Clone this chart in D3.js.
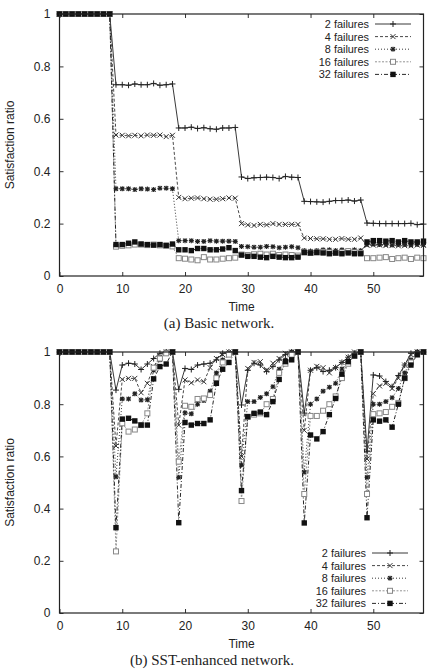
<!DOCTYPE html>
<html>
<head>
<meta charset="utf-8">
<script src="https://cdn.jsdelivr.net/npm/d3@7"></script>
<style>
  body { margin: 0; background: #fff; }
  svg text { font-family: "Liberation Sans", Arial, sans-serif; fill: #222; }
  svg text.caption { font-family: "Liberation Serif", "DejaVu Serif", serif; }
</style>
</head>
<body>
<div id="chart"></div>
<script>
// ----------- Data -----------------------------------

const time = d3.range(0, 59);
const seriesNames = ["2 failures", "4 failures", "8 failures", "16 failures", "32 failures"];
const xTicks = [0, 10, 20, 30, 40, 50];
const yTicks = [0, 0.2, 0.4, 0.6, 0.8, 1];
const yTickLabels = ["0", "0.2", "0.4", "0.6", "0.8", "1"];

const ones = [1, 1, 1, 1, 1, 1, 1, 1, 1];

// (a) Basic network
const basic2 = ones.concat([
  0.73, 0.73, 0.728, 0.733, 0.73, 0.73, 0.735, 0.728, 0.73, 0.733,
  0.565, 0.565, 0.568, 0.563, 0.566, 0.562, 0.56, 0.565, 0.565, 0.567,
  0.378, 0.372, 0.375, 0.376, 0.377, 0.376, 0.372, 0.38, 0.377, 0.376,
  0.285, 0.284, 0.283, 0.282, 0.285, 0.288, 0.288, 0.29, 0.286, 0.29,
  0.202, 0.201, 0.2, 0.2, 0.2, 0.2, 0.2, 0.201, 0.196, 0.198]);
const basic4 = ones.concat([
  0.538, 0.537, 0.535, 0.537, 0.535, 0.538, 0.537, 0.538, 0.532, 0.537,
  0.3, 0.295, 0.297, 0.298, 0.295, 0.293, 0.293, 0.295, 0.298, 0.297,
  0.2, 0.195, 0.193, 0.197, 0.195, 0.2, 0.197, 0.197, 0.197, 0.197,
  0.145, 0.143, 0.142, 0.142, 0.14, 0.14, 0.143, 0.14, 0.14, 0.145,
  0.117, 0.118, 0.118, 0.116, 0.117, 0.115, 0.116, 0.115, 0.118, 0.117]);
const basic8 = ones.concat([
  0.333, 0.333, 0.333, 0.33, 0.333, 0.332, 0.33, 0.335, 0.335, 0.333,
  0.135, 0.135, 0.135, 0.132, 0.132, 0.135, 0.133, 0.133, 0.133, 0.132,
  0.113, 0.112, 0.11, 0.11, 0.113, 0.112, 0.108, 0.11, 0.112, 0.108,
  0.097, 0.095, 0.097, 0.1, 0.1, 0.097, 0.1, 0.097, 0.1, 0.097,
  0.12, 0.122, 0.12, 0.12, 0.118, 0.12, 0.12, 0.118, 0.12, 0.12]);
const basic16 = ones.concat([
  0.112, 0.115, 0.117, 0.12, 0.12, 0.118, 0.12, 0.117, 0.115, 0.113,
  0.068, 0.066, 0.063, 0.06, 0.072, 0.063, 0.063, 0.066, 0.068, 0.07,
  0.082, 0.08, 0.083, 0.085, 0.082, 0.085, 0.08, 0.082, 0.08, 0.078,
  0.09, 0.088, 0.09, 0.092, 0.09, 0.088, 0.09, 0.095, 0.09, 0.088,
  0.068, 0.068, 0.07, 0.072, 0.065, 0.068, 0.07, 0.065, 0.07, 0.068]);
const basic32 = ones.concat([
  0.12, 0.12, 0.125, 0.13, 0.122, 0.12, 0.118, 0.12, 0.117, 0.122,
  0.1, 0.1, 0.097, 0.105, 0.105, 0.1, 0.1, 0.103, 0.108, 0.097,
  0.08, 0.075, 0.075, 0.072, 0.07, 0.075, 0.072, 0.07, 0.07, 0.072,
  0.09, 0.088, 0.09, 0.088, 0.085, 0.088, 0.085, 0.088, 0.085, 0.085,
  0.13, 0.135, 0.135, 0.133, 0.135, 0.13, 0.135, 0.13, 0.13, 0.133]);

// (b) SST-enhanced network
const sst2 = ones.concat([
  0.854, 0.95, 0.957, 0.954, 0.933, 0.954, 0.975, 0.995, 1, 1,
  0.857, 0.937, 0.933, 0.95, 0.954, 0.957, 0.97, 0.995, 1, 1,
  0.797, 0.93, 0.957, 0.95, 0.925, 0.944, 0.97, 0.99, 1, 1,
  0.766, 0.93, 0.94, 0.925, 0.93, 0.94, 0.96, 0.98, 0.995, 1,
  0.62, 0.912, 0.908, 0.887, 0.867, 0.91, 0.95, 0.995, 1, 1]);
const sst4 = ones.concat([
  0.64, 0.895, 0.899, 0.899, 0.844, 0.88, 0.944, 0.982, 1, 1,
  0.72, 0.893, 0.882, 0.893, 0.886, 0.94, 0.975, 0.99, 1, 1,
  0.6, 0.937, 0.96, 0.963, 0.93, 0.957, 0.975, 0.995, 1, 1,
  0.7, 0.93, 0.945, 0.94, 0.92, 0.94, 0.96, 0.98, 1, 1,
  0.59, 0.84, 0.87, 0.88, 0.86, 0.9, 0.95, 0.99, 1, 1]);
const sst8 = ones.concat([
  0.522, 0.82, 0.82, 0.84, 0.816, 0.817, 0.93, 0.97, 1, 1,
  0.52, 0.767, 0.763, 0.8, 0.814, 0.85, 0.92, 0.97, 0.99, 1,
  0.567, 0.81, 0.81, 0.826, 0.84, 0.867, 0.934, 0.97, 1, 1,
  0.54, 0.8, 0.82, 0.85, 0.865, 0.88, 0.935, 0.96, 0.985, 1,
  0.52, 0.8, 0.8, 0.81, 0.825, 0.86, 0.92, 0.97, 1, 1]);
const sst16 = ones.concat([
  0.236, 0.727, 0.695, 0.703, 0.72, 0.765, 0.94, 0.975, 0.995, 1,
  0.58, 0.794, 0.79, 0.82, 0.822, 0.835, 0.9, 0.96, 0.99, 1,
  0.429, 0.752, 0.76, 0.765, 0.8, 0.82, 0.92, 0.955, 0.99, 1,
  0.456, 0.755, 0.755, 0.775, 0.8, 0.83, 0.9, 0.955, 0.985, 1,
  0.456, 0.762, 0.765, 0.77, 0.79, 0.805, 0.9, 0.96, 0.99, 1]);
const sst32 = ones.concat([
  0.327, 0.743, 0.746, 0.736, 0.72, 0.72, 0.897, 0.944, 0.954, 1,
  0.346, 0.73, 0.72, 0.726, 0.726, 0.74, 0.88, 0.934, 0.96, 1,
  0.469, 0.752, 0.765, 0.77, 0.76, 0.81, 0.895, 0.963, 0.97, 1,
  0.345, 0.682, 0.667, 0.695, 0.76, 0.822, 0.915, 0.963, 0.985, 1,
  0.365, 0.74, 0.735, 0.74, 0.712, 0.8, 0.9, 0.95, 0.99, 1]);

// ----------- Styles (gnuplot-like line/point types) ------------

const styles = [
  { dash: null,      color: "#222", marker: "plus" },
  { dash: "3,2",     color: "#333", marker: "cross" },
  { dash: "1,2",     color: "#222", marker: "star" },
  { dash: "2,1.5",   color: "#888", marker: "openSquare" },
  { dash: "4,2,1,2", color: "#111", marker: "filledSquare" }
];

function drawMarker(g, kind, x, y, color) {
  if (kind === "plus") {
    g.append("path").attr("d", `M${x - 3},${y}H${x + 3}M${x},${y - 3}V${y + 3}`)
      .attr("stroke", color).attr("stroke-width", 1);
  } else if (kind === "cross") {
    g.append("path").attr("d", `M${x - 2.5},${y - 2.5}L${x + 2.5},${y + 2.5}M${x - 2.5},${y + 2.5}L${x + 2.5},${y - 2.5}`)
      .attr("stroke", color).attr("stroke-width", 1);
  } else if (kind === "star") {
    g.append("path").attr("d", `M${x - 2.5},${y}H${x + 2.5}M${x},${y - 2.5}V${y + 2.5}M${x - 2},${y - 2}L${x + 2},${y + 2}M${x - 2},${y + 2}L${x + 2},${y - 2}`)
      .attr("stroke", color).attr("stroke-width", 1.1);
  } else if (kind === "openSquare") {
    g.append("rect").attr("x", x - 2.5).attr("y", y - 2.5).attr("width", 5).attr("height", 5)
      .attr("fill", "#fff").attr("stroke", color).attr("stroke-width", 1);
  } else {
    g.append("rect").attr("x", x - 2.7).attr("y", y - 2.7).attr("width", 5.4).attr("height", 5.4)
      .attr("fill", color);
  }
}

const svg = d3.select("#chart").append("svg")
  .attr("width", 427)
  .attr("height", 671);

function drawPanel(opt) {
  const x = d3.scaleLinear().domain([0, 58]).range([59.5, 423.5]);
  const y = d3.scaleLinear().domain([0, 1]).range([opt.bottom, opt.top]);
  const g = svg.append("g");

  // ticks on all four sides, pointing in
  g.append("g")
    .attr("transform", `translate(0,${opt.bottom})`)
    .call(d3.axisBottom(x).tickValues(xTicks).tickSize(-4).tickPadding(8).tickFormat(d3.format("d")))
    .call(a => a.select(".domain").remove());
  g.append("g")
    .attr("transform", `translate(0,${opt.top})`)
    .call(d3.axisTop(x).tickValues(xTicks).tickSize(-4).tickFormat(""))
    .call(a => a.select(".domain").remove());
  g.append("g")
    .attr("transform", `translate(${x(0)},0)`)
    .call(d3.axisLeft(y).tickValues(yTicks).tickSize(-4).tickPadding(9).tickFormat((d, i) => yTickLabels[i]))
    .call(a => a.select(".domain").remove());
  g.append("g")
    .attr("transform", `translate(${x(58)},0)`)
    .call(d3.axisRight(y).tickValues(yTicks).tickSize(-4).tickFormat(""))
    .call(a => a.select(".domain").remove());
  g.selectAll(".tick line").attr("stroke", "#333");
  g.selectAll(".tick text").attr("font-size", 12).attr("fill", "#222")
    .attr("font-family", "Liberation Sans, Arial, sans-serif");

  // data lines and points
  const line = d3.line().x((d, i) => x(time[i])).y(d => y(d));
  opt.series.forEach((vals, k) => {
    const s = styles[k];
    g.append("path")
      .attr("d", line(vals))
      .attr("fill", "none")
      .attr("stroke", s.color)
      .attr("stroke-width", 0.9)
      .attr("stroke-dasharray", s.dash);
  });
  opt.series.forEach((vals, k) => {
    const s = styles[k];
    const mg = g.append("g");
    vals.forEach((v, i) => drawMarker(mg, s.marker, x(time[i]), y(v), s.color));
  });

  // frame
  g.append("rect")
    .attr("x", x(0)).attr("y", opt.top)
    .attr("width", x(58) - x(0)).attr("height", opt.bottom - opt.top)
    .attr("fill", "none").attr("stroke", "#222").attr("stroke-width", 1.2);

  // legend
  seriesNames.forEach((name, k) => {
    const s = styles[k];
    const ly = opt.legendY + k * 12.6;
    g.append("text")
      .attr("x", opt.legendX).attr("y", ly + 4)
      .attr("text-anchor", "end").attr("font-size", 10.9)
      .text(name);
    g.append("line")
      .attr("x1", opt.legendX + 6).attr("x2", opt.legendX + 42)
      .attr("y1", ly).attr("y2", ly)
      .attr("stroke", s.color).attr("stroke-width", 0.9)
      .attr("stroke-dasharray", s.dash);
    drawMarker(g, s.marker, opt.legendX + 24, ly, s.color);
  });

  // axis titles and caption
  g.append("text")
    .attr("x", (x(0) + x(58)) / 2).attr("y", opt.bottom + 35)
    .attr("text-anchor", "middle").attr("font-size", 12)
    .text("Time");
  g.append("text")
    .attr("transform", `translate(14,${(opt.top + opt.bottom) / 2}) rotate(-90)`)
    .attr("text-anchor", "middle").attr("font-size", 12)
    .text("Satisfaction ratio");
  g.append("text")
    .attr("class", "caption")
    .attr("x", opt.captionX).attr("y", opt.bottom + 52)
    .attr("text-anchor", "middle").attr("font-size", 15)
    .text(opt.caption);
}

drawPanel({
  top: 14, bottom: 276,
  series: [basic2, basic4, basic8, basic16, basic32],
  legendX: 369, legendY: 24,
  caption: "(a) Basic network.", captionX: 219
});

drawPanel({
  top: 352, bottom: 613,
  series: [sst2, sst4, sst8, sst16, sst32],
  legendX: 366, legendY: 553,
  caption: "(b) SST-enhanced network.", captionX: 212
});
</script>
</body>
</html>
